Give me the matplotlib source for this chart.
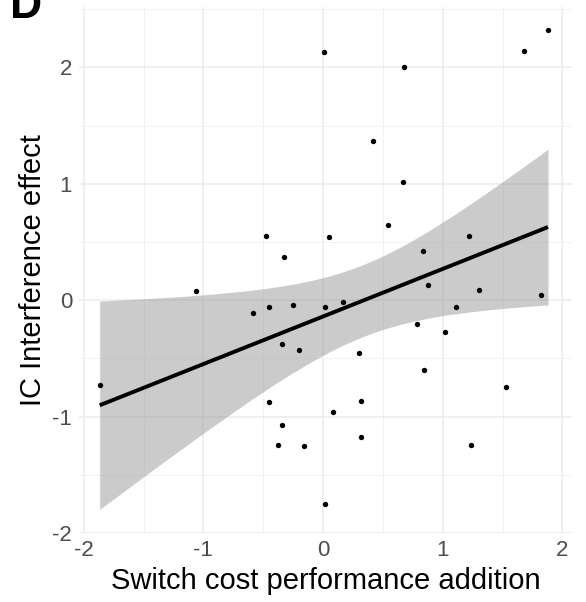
import numpy as np
import matplotlib.pyplot as plt

plt.rcParams['font.family'] = ['Liberation Sans', 'DejaVu Sans']
plt.rcParams['axes.unicode_minus'] = False

# switch cost (x) vs IC interference effect (y), one point per participant
switch_cost = [
    0.004, -0.475, -0.33, 0.046, -1.063, 0.675, 1.88, 1.68, 0.42, 0.667,
    0.545, 1.22, 0.834, 0.88, 1.30, 1.82, -1.867, -0.586, -0.455, -0.25,
    0.02, -0.344, -0.20, -0.455, 0.08, -0.34, -0.38, -0.157, 0.02, 0.163,
    1.107, 0.784, 1.023, 0.297, 0.845, 1.525, 0.313, 0.313, 1.24,
]
ic_effect = [
    2.13, 0.55, 0.37, 0.54, 0.08, 2.00, 2.32, 2.14, 1.37, 1.02,
    0.645, 0.556, 0.42, 0.127, 0.084, 0.045, -0.73, -0.113, -0.06, -0.04,
    -0.06, -0.38, -0.43, -0.874, -0.96, -1.075, -1.24, -1.25, -1.75, -0.016,
    -0.06, -0.207, -0.27, -0.457, -0.597, -0.742, -0.869, -1.178, -1.243,
]
x_ticks = [-2, -1, 0, 1, 2]
y_ticks = [-2, -1, 0, 1, 2]

x = np.array(switch_cost)
y = np.array(ic_effect)
n = len(x)

# ordinary least squares fit with 95% confidence band
slope, intercept = np.polyfit(x, y, 1)
resid = y - (slope * x + intercept)
s_err = np.sqrt(np.sum(resid ** 2) / (n - 2))
t_crit = 2.026  # t(0.975, df=37)
xs = np.linspace(x.min(), x.max(), 200)
fit = slope * xs + intercept
se = s_err * np.sqrt(1 / n + (xs - x.mean()) ** 2 / np.sum((x - x.mean()) ** 2))

fig = plt.figure(figsize=(5.86, 6.02), dpi=100)
ax = fig.add_axes([0.1348, 0.1146, 0.976 - 0.1348, 0.9884 - 0.1146])

ax.fill_between(xs, fit - t_crit * se, fit + t_crit * se,
                color='#999999', alpha=0.5, linewidth=0, zorder=2)
ax.scatter(x, y, s=15, color='black', linewidths=0, zorder=3)
ax.plot(xs, fit, color='black', lw=2.8, zorder=4, solid_capstyle='butt')

ax.set_xlim(-2.04, 2.08)
ax.set_ylim(-2.0, 2.52)
ax.set_xticks(x_ticks)
ax.set_yticks(y_ticks)
ax.set_xticks([-1.5, -0.5, 0.5, 1.5], minor=True)
ax.set_yticks([-1.5, -0.5, 0.5, 1.5, 2.5], minor=True)
ax.grid(which='major', color='#EBEBEB', lw=1.1, zorder=0)
ax.grid(which='minor', color='#F2F2F2', lw=0.7, zorder=0)
ax.set_axisbelow(True)
for sp in ax.spines.values():
    sp.set_visible(False)
ax.tick_params(which='both', length=0, labelsize=16, labelcolor='#4D4D4D', pad=5)

ax.set_xlabel('Switch cost performance addition', fontsize=21, labelpad=4)
ax.set_ylabel('IC Interference effect', fontsize=21, labelpad=4)

fig.text(0.017, 1 - 18 / 602, 'D', fontsize=32, fontweight='bold',
         va='baseline', ha='left')

fig.savefig('out.png', dpi=100)
